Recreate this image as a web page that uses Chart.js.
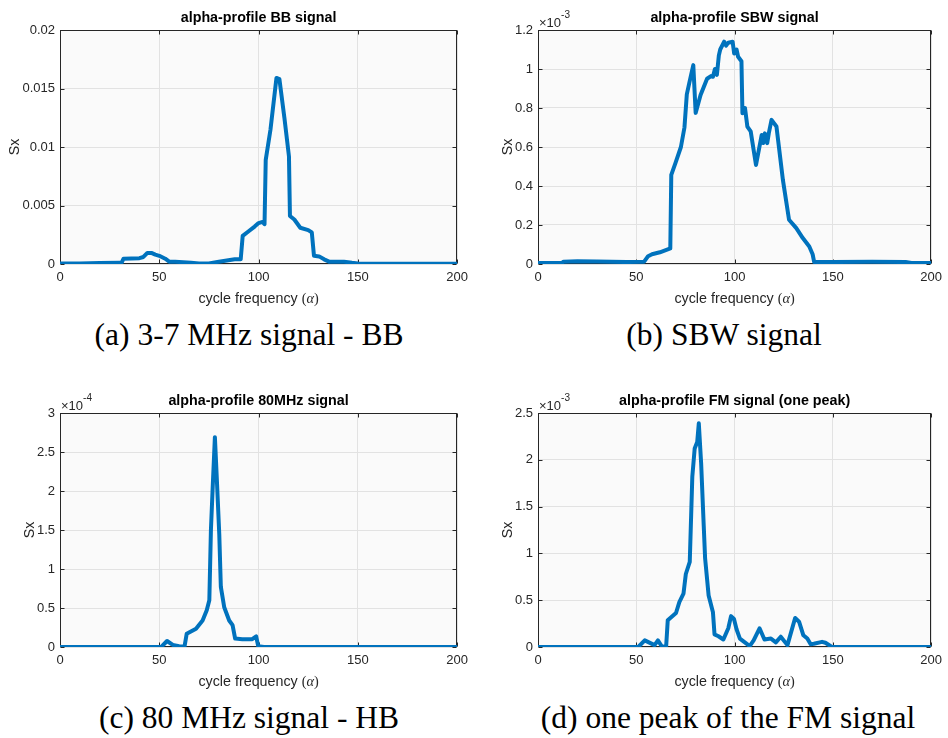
<!DOCTYPE html>
<html>
<head>
<meta charset="utf-8">
<script src="https://cdn.jsdelivr.net/npm/chart.js@4.4.1/dist/chart.umd.min.js"></script>
<style>
  html, body { margin: 0; padding: 0; background: #fff; }
  body { width: 948px; height: 738px; position: relative; overflow: hidden; }
  .panel { position: absolute; }
  .caption {
    position: absolute;
    font-family: 'Liberation Serif', 'Times New Roman', serif;
    font-size: 31.5px;
    line-height: 31.5px;
    white-space: nowrap;
    color: #000;
    transform: translateX(-50%);
  }
</style>
</head>
<body>
<div class="panel" id="pa"><canvas id="ca" width="474" height="315"></canvas></div>
<div class="panel" id="pb"><canvas id="cb" width="474" height="315"></canvas></div>
<div class="panel" id="pc"><canvas id="cc" width="474" height="315"></canvas></div>
<div class="panel" id="pd"><canvas id="cd" width="474" height="315"></canvas></div>
<div class="caption" style="left:249px; top:319px">(a) 3-7 MHz signal - BB</div>
<div class="caption" style="left:724px; top:319px">(b) SBW signal</div>
<div class="caption" style="left:249px; top:702px">(c) 80 MHz signal - HB</div>
<div class="caption" style="left:728px; top:702px">(d) one peak of the FM signal</div>

<script>
// shared x axis
const xTicks = [0, 50, 100, 150, 200];

// (a) 3-7 MHz BB signal
const alphaBB = [0, 10, 20, 30, 31, 32, 36, 40, 42, 44, 46, 48, 50, 53, 55, 58, 62, 66, 70, 75, 80, 84, 88, 91, 92, 95, 98, 100, 102, 103, 103.6, 106, 109, 110.5, 113, 115.3, 115.8, 118, 121, 125, 126.8, 127.9, 130.5, 133, 135.5, 140, 143, 147, 150, 160, 180, 200];
const sxBB = [0.00005, 0.00005, 0.00008, 0.0001, 0.0001, 0.00045, 0.00048, 0.0005, 0.0006, 0.00095, 0.00095, 0.0008, 0.0007, 0.00045, 0.0002, 0.0002, 0.00015, 0.0001, 0.00005, 0.00005, 0.0002, 0.0003, 0.0004, 0.0004, 0.0024, 0.0028, 0.0032, 0.0035, 0.0036, 0.0034, 0.0089, 0.0115, 0.0159, 0.0158, 0.0125, 0.0092, 0.0041, 0.0038, 0.0031, 0.0029, 0.0027, 0.0007, 0.00065, 0.0004, 0.0002, 0.0002, 0.0002, 0.0001, 0.00005, 0.00003, 0.00003, 0.00003];
const yTicksBB = [0, 0.005, 0.01, 0.015, 0.02];

// (b) SBW signal, in units of 1e-3
const alphaSBW = [0, 12, 13, 20, 30, 45, 54, 56, 58, 62, 66, 67.3, 67.8, 70, 72.7, 74.5, 75.7, 77, 79, 80.2, 82.7, 86, 88, 89, 90, 91, 92, 92.7, 94.7, 95.7, 96.8, 99, 99.8, 101, 101.8, 103.5, 104, 105.3, 106.5, 108.2, 110.9, 113.8, 114.6, 115.4, 116.6, 117.4, 118.8, 121.3, 124.6, 127.7, 131.4, 134.7, 138, 139.7, 140.5, 150, 170, 187, 190, 200];
const sxSBW = [0.005, 0.005, 0.012, 0.014, 0.013, 0.01, 0.012, 0.04, 0.05, 0.06, 0.075, 0.08, 0.457, 0.52, 0.60, 0.70, 0.87, 0.93, 1.02, 0.775, 0.867, 0.95, 0.964, 0.96, 1.0, 0.97, 1.07, 1.1, 1.14, 1.12, 1.135, 1.14, 1.08, 1.10, 1.063, 1.04, 0.773, 0.80, 0.705, 0.68, 0.508, 0.662, 0.62, 0.67, 0.62, 0.67, 0.739, 0.705, 0.43, 0.227, 0.184, 0.133, 0.09, 0.05, 0.01, 0.01, 0.012, 0.01, 0.005, 0.005];
const yTicksSBW = [0, 0.2, 0.4, 0.6, 0.8, 1, 1.2];

// (c) 80 MHz signal, in units of 1e-4
const alpha80 = [0, 20, 40, 51, 53.9, 56.8, 60, 62.7, 63.8, 68.5, 71.8, 73.9, 75.2, 76, 76.9, 78, 79, 80.2, 81, 82.7, 85.2, 86.9, 88.2, 91.8, 96.8, 98.8, 99.8, 102.7, 120, 150, 200];
const sx80 = [0, 0, 0, 0, 0.077, 0.026, 0.01, 0.005, 0.17, 0.235, 0.34, 0.47, 0.60, 1.5, 2.05, 2.69, 2.14, 1.45, 0.77, 0.51, 0.34, 0.28, 0.108, 0.10, 0.10, 0.137, 0.01, 0, 0, 0, 0];
const yTicks80 = [0, 0.5, 1, 1.5, 2, 2.5, 3];

// (d) FM signal (one peak), in units of 1e-3
const alphaFM = [0, 20, 40, 51, 54.3, 59.3, 61, 63.2, 65.2, 66, 70.2, 71.9, 74, 75.2, 77.2, 78.5, 79.7, 81, 81.8, 83, 84.3, 85, 86.8, 89, 89.8, 91.8, 94.3, 96.8, 98.2, 99.7, 101, 102.7, 105.2, 107.7, 109.7, 112.7, 115.2, 118.5, 121, 123.5, 126.9, 130.8, 132.8, 135, 137, 138.7, 140.3, 144.5, 146.2, 149.5, 160, 180, 200];
const sxFM = [0, 0, 0, 0, 0.071, 0.02, 0.07, 0, 0.01, 0.285, 0.363, 0.48, 0.57, 0.78, 0.91, 1.82, 2.12, 2.19, 2.39, 1.96, 1.3, 0.95, 0.55, 0.37, 0.135, 0.115, 0.08, 0.2, 0.33, 0.30, 0.19, 0.09, 0.05, 0.01, 0.07, 0.2, 0.08, 0.09, 0.05, 0.11, 0.02, 0.31, 0.27, 0.125, 0.09, 0.03, 0.035, 0.055, 0.045, 0, 0, 0, 0];
const yTicksFM = [0, 0.5, 1, 1.5, 2, 2.5];

const LINE = '#0072BD';
const AXIS = '#262626';
const GRID = '#E2E2E2';
const PLOT_BG = '#FAFAFA';
const SANS = "'Liberation Sans', Arial, Helvetica, sans-serif";

// box = canvas placement on page, area = plot box on page
const panels = [
    { canvas: 'ca', div: 'pa', box: [0, 0], area: [60, 30, 459, 264],
      title: 'alpha-profile BB signal', xs: alphaBB, ys: sxBB, yTicks: yTicksBB, exponent: null },
    { canvas: 'cb', div: 'pb', box: [474, 0], area: [538, 30, 937, 264],
      title: 'alpha-profile SBW signal', xs: alphaSBW, ys: sxSBW, yTicks: yTicksSBW, exponent: '-3' },
    { canvas: 'cc', div: 'pc', box: [0, 380], area: [60, 413, 459, 647],
      title: 'alpha-profile 80MHz signal', xs: alpha80, ys: sx80, yTicks: yTicks80, exponent: '-4' },
    { canvas: 'cd', div: 'pd', box: [474, 380], area: [538, 413, 937, 647],
      title: 'alpha-profile FM signal (one peak)', xs: alphaFM, ys: sxFM, yTicks: yTicksFM, exponent: '-3' }
];

const CW = 474, CH = 315;
const Y_W = 50, X_H = 30;

function makeDecor(p) {
    return {
        id: 'decor',
        beforeDraw(chart) {
            const {ctx, chartArea: a} = chart;
            ctx.save();
            ctx.fillStyle = PLOT_BG;
            ctx.fillRect(a.left, a.top, a.right - a.left, a.bottom - a.top);
            ctx.restore();
        },
        beforeDatasetsDraw(chart) {
            // matlab-style box with inward ticks on all four sides
            const {ctx, chartArea: a, scales: {x, y}} = chart;
            ctx.save();
            ctx.strokeStyle = AXIS;
            ctx.lineWidth = 1;
            const L = Math.round(a.left) + 0.5, R = Math.round(a.right) - 0.5;
            const T = Math.round(a.top) + 0.5, B = Math.round(a.bottom) - 0.5;
            ctx.strokeRect(L, T, R - L, B - T);
            ctx.beginPath();
            xTicks.forEach(v => {
                const px = Math.round(x.getPixelForValue(v)) + 0.5;
                ctx.moveTo(px, B); ctx.lineTo(px, B - 4);
                ctx.moveTo(px, T); ctx.lineTo(px, T + 4);
            });
            p.yTicks.forEach(v => {
                const py = Math.round(y.getPixelForValue(v)) + 0.5;
                ctx.moveTo(L, py); ctx.lineTo(L + 4, py);
                ctx.moveTo(R, py); ctx.lineTo(R - 4, py);
            });
            ctx.stroke();
            ctx.restore();
        },
        afterDraw(chart) {
            const {ctx, chartArea: a} = chart;
            const cx = (a.left + a.right) / 2;
            ctx.save();
            ctx.fillStyle = '#000';
            ctx.textAlign = 'center';
            ctx.textBaseline = 'middle';
            ctx.font = 'bold 14.3px ' + SANS;
            ctx.fillText(p.title, cx, a.top - 12);

            // x label: sans text + tex-like (alpha)
            ctx.fillStyle = AXIS;
            const part1 = 'cycle frequency ';
            ctx.font = '14.3px ' + SANS;
            const w1 = ctx.measureText(part1).width;
            ctx.font = '14.3px "Liberation Serif", serif';
            const wp = ctx.measureText('(').width;
            ctx.font = 'italic 14.3px "Liberation Serif", serif';
            const wa = ctx.measureText('α').width;
            const total = w1 + wp * 2 + wa;
            let xx = cx - total / 2;
            const ly = a.bottom + 35;
            ctx.textAlign = 'left';
            ctx.font = '14.3px ' + SANS;
            ctx.fillText(part1, xx, ly); xx += w1;
            ctx.font = '14.3px "Liberation Serif", serif';
            ctx.fillText('(', xx, ly); xx += wp;
            ctx.font = 'italic 14.3px "Liberation Serif", serif';
            ctx.fillText('α', xx, ly); xx += wa;
            ctx.font = '14.3px "Liberation Serif", serif';
            ctx.fillText(')', xx, ly);

            // y label, placed left of the widest tick label
            ctx.font = '13px ' + SANS;
            const maxW = Math.max(...p.yTicks.map(v => ctx.measureText(String(v)).width));
            ctx.save();
            ctx.translate(a.left - 5 - maxW - 7, (a.top + a.bottom) / 2);
            ctx.rotate(-Math.PI / 2);
            ctx.textAlign = 'center';
            ctx.font = '14.3px ' + SANS;
            ctx.fillText('Sx', 0, 0);
            ctx.restore();

            if (p.exponent) {
                ctx.textAlign = 'left';
                ctx.font = '13px ' + SANS;
                ctx.fillText('×10', a.left + 1, a.top - 7);
                const w = ctx.measureText('×10').width;
                ctx.font = '10px ' + SANS;
                ctx.fillText(p.exponent, a.left + 1 + w, a.top - 14.5);
            }
            ctx.restore();
        }
    };
}

panels.forEach(p => {
    const div = document.getElementById(p.div);
    div.style.left = p.box[0] + 'px';
    div.style.top = p.box[1] + 'px';
    const [l, t, r, b] = p.area;
    const pad = {
        left: l - p.box[0] - Y_W,
        top: t - p.box[1],
        right: p.box[0] + CW - r,
        bottom: p.box[1] + CH - b - X_H
    };
    const pts = p.xs.map((v, i) => ({x: v, y: p.ys[i]}));
    const yMax = p.yTicks[p.yTicks.length - 1];

    new Chart(document.getElementById(p.canvas).getContext('2d'), {
        type: 'line',
        data: {
            datasets: [{
                data: pts,
                borderColor: LINE,
                borderWidth: 4,
                pointRadius: 0,
                tension: 0,
                fill: false,
                borderJoinStyle: 'round',
                borderCapStyle: 'round'
            }]
        },
        options: {
            responsive: false,
            animation: false,
            devicePixelRatio: 1,
            layout: { padding: pad },
            plugins: {
                legend: { display: false },
                tooltip: { enabled: false },
                title: { display: false }
            },
            scales: {
                x: {
                    type: 'linear',
                    min: 0,
                    max: 200,
                    afterBuildTicks: s => { s.ticks = xTicks.map(v => ({value: v})); },
                    afterFit: s => { s.height = X_H; },
                    grid: { color: GRID, drawTicks: false },
                    border: { display: false },
                    ticks: {
                        padding: 6,
                        color: AXIS,
                        font: { family: SANS, size: 13 },
                        maxRotation: 0,
                        callback: v => String(v)
                    }
                },
                y: {
                    type: 'linear',
                    min: 0,
                    max: yMax,
                    afterBuildTicks: s => { s.ticks = p.yTicks.map(v => ({value: v})); },
                    afterFit: s => { s.width = Y_W; },
                    grid: { color: GRID, drawTicks: false },
                    border: { display: false },
                    ticks: {
                        padding: 5,
                        color: AXIS,
                        font: { family: SANS, size: 13 },
                        callback: v => String(v)
                    }
                }
            }
        },
        plugins: [makeDecor(p)]
    });
});
</script>
</body>
</html>
